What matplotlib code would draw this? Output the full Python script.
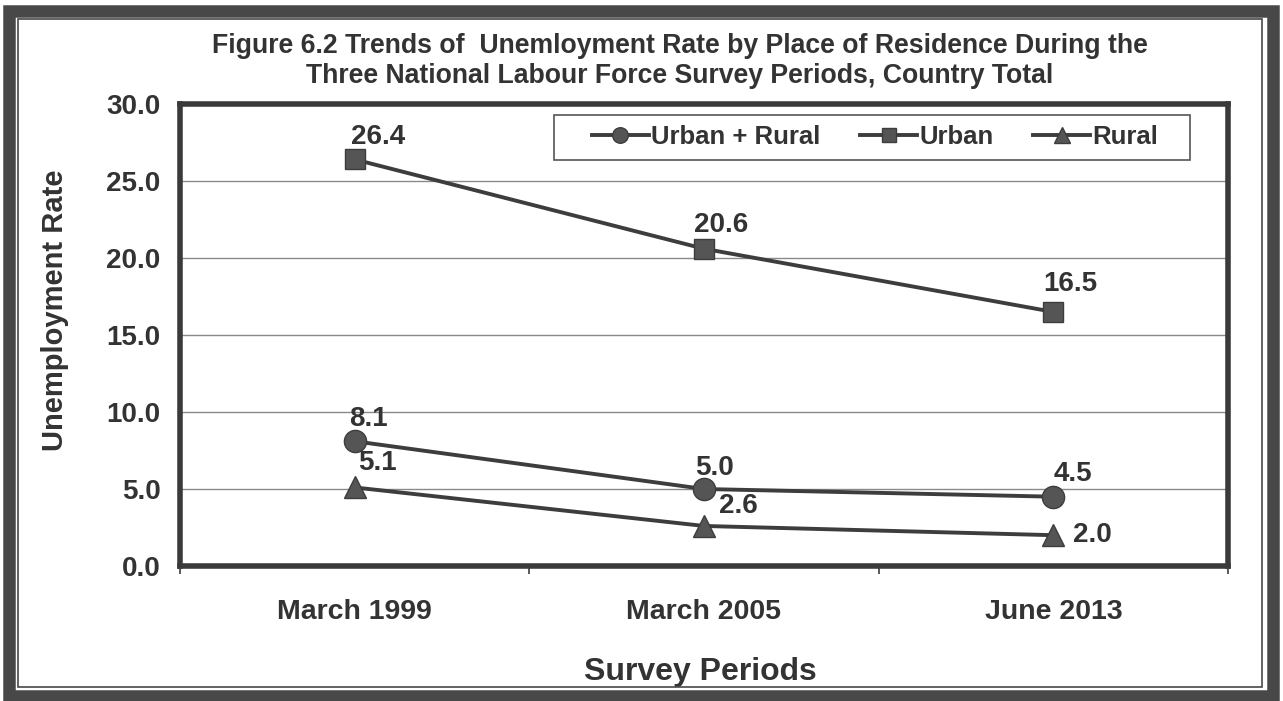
import matplotlib
matplotlib.use("Agg")
import matplotlib.pyplot as plt
from matplotlib.patches import Rectangle

plt.rcParams['font.family'] = ['Liberation Sans', 'DejaVu Sans']
plt.rcParams['font.weight'] = 'bold'

periods = ["March 1999", "March 2005", "June 2013"]
urban_rural = [8.1, 5.0, 4.5]
urban = [26.4, 20.6, 16.5]
rural = [5.1, 2.6, 2.0]
y_ticks = [0.0, 5.0, 10.0, 15.0, 20.0, 25.0, 30.0]

TXT = '#333333'
LINE = '#3d3d3d'
MARK = '#555555'

W, H = 1283, 701
AX_L, AX_R, AX_T, AX_B = 180, 1228, 104, 566
fig = plt.figure(figsize=(W / 100, H / 100), dpi=100)
ax = fig.add_axes([AX_L / W, 1 - AX_B / H, (AX_R - AX_L) / W, (AX_B - AX_T) / H])


def ax_x(px):
    return (px - AX_L) / (AX_R - AX_L)


def ax_y(py):
    return (AX_B - py) / (AX_B - AX_T)


x = list(range(len(periods)))
ax.plot(x, urban_rural, color=LINE, lw=2.8, marker='o', ms=16, mfc=MARK, mec=LINE, mew=1, label='Urban + Rural', zorder=3)
ax.plot(x, urban, color=LINE, lw=2.8, marker='s', ms=14.5, mfc=MARK, mec=LINE, mew=1, label='Urban', zorder=3)
ax.plot(x, rural, color=LINE, lw=2.8, marker='^', ms=16.5, mfc=MARK, mec=LINE, mew=1, label='Rural', zorder=3)

# label offsets in pixels (dx, dy)
off_ur = [(14, 22), (11, 21), (20, 23)]
off_u = [(23, 22), (17, 24), (17, 28)]
off_r = [(23, 24), (34, 20), (39, 0)]
for series, offs in ((urban_rural, off_ur), (urban, off_u), (rural, off_r)):
    for i, v in enumerate(series):
        dx, dy = offs[i]
        ax.annotate(f"{v:.1f}", (i, v), xytext=(dx * 0.72, dy * 0.72), textcoords='offset points',
                    ha='center', va='center', fontsize=20, fontweight='bold', color=TXT, zorder=4)

ax.set_xlim(-0.5, 2.5)
ax.set_ylim(0, 30)
ax.set_yticks(y_ticks)
ax.set_yticklabels([f"{t:.1f}" for t in y_ticks])
ax.set_xticks(x)
ax.set_xticklabels(periods)
ax.set_xticks([-0.5, 0.5, 1.5, 2.5], minor=True)
ax.tick_params(axis='x', which='major', length=0, pad=24, labelsize=20.5, labelcolor=TXT)
ax.tick_params(axis='x', which='minor', length=6, width=1.2, color=LINE, direction='out')
ax.tick_params(axis='y', length=0, pad=14, labelsize=20, labelcolor=TXT)
for t in ax.get_xticklabels() + ax.get_yticklabels():
    t.set_fontweight('bold')

ax.yaxis.grid(True, color='#8a8a8a', lw=1.0)
ax.set_axisbelow(True)
for s in ax.spines.values():
    s.set_linewidth(4)
    s.set_color('#3a3a3a')

ax.set_ylabel("Unemployment Rate", fontsize=21, fontweight='bold', color=TXT)
ax.yaxis.set_label_coords(ax_x(55), ax_y(310))
ax.set_xlabel("Survey Periods", fontsize=23, fontweight='bold', color=TXT)
ax.xaxis.set_label_coords(ax_x(700), ax_y(672))
ax.xaxis.label.set_va('center')
ax.yaxis.label.set_va('center')

fig.text(680 / W, 1 - 46 / H, "Figure 6.2 Trends of  Unemloyment Rate by Place of Residence During the",
         ha='center', va='center', fontsize=19.2, fontweight='bold', color=TXT)
fig.text(680 / W, 1 - 76 / H, "Three National Labour Force Survey Periods, Country Total",
         ha='center', va='center', fontsize=19.2, fontweight='bold', color=TXT)

leg = ax.legend(loc='center left', bbox_to_anchor=(ax_x(592), ax_y(137)),
                ncol=3, frameon=False, fontsize=18.5, handlelength=2.2, handletextpad=0.1,
                columnspacing=1.55, borderpad=0, markerscale=0.7, borderaxespad=0)
for t in leg.get_texts():
    t.set_color(TXT)
    t.set_fontweight('bold')
ax.add_patch(Rectangle((ax_x(554), ax_y(160)), ax_x(1190) - ax_x(554), ax_y(115) - ax_y(160),
                       transform=ax.transAxes, fill=True, facecolor='white', edgecolor='#555555',
                       lw=1.2, zorder=4.5))
leg.set_zorder(5)

# outer frame
fig.patches.append(Rectangle((9 / W, 5 / H), (1273 - 9) / W, (690 - 5) / H, transform=fig.transFigure,
                             fill=False, lw=9, edgecolor='#484848', zorder=10))
fig.patches.append(Rectangle((18 / W, 14 / H), (1262 - 18) / W, (682 - 14) / H, transform=fig.transFigure,
                             fill=False, lw=1.2, edgecolor='#484848', zorder=10))

fig.savefig("out.png", dpi=100, facecolor='white')
